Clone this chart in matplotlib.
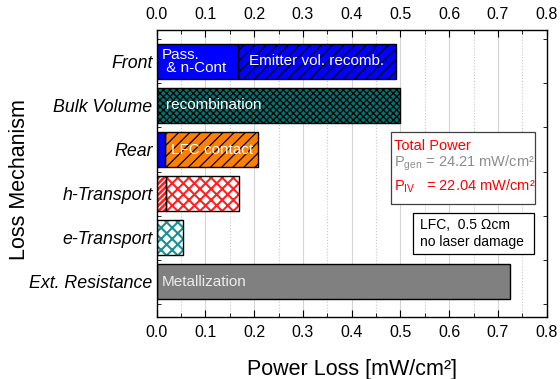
import numpy as np
import matplotlib.pyplot as plt
from matplotlib.patches import Rectangle

plt.rcParams['font.family'] = ['Liberation Sans', 'DejaVu Sans']
plt.rcParams['mathtext.fontset'] = 'custom'
plt.rcParams['mathtext.rm'] = 'Liberation Sans'

# Loss channels, top to bottom
categories = ['Front', 'Bulk Volume', 'Rear', 'h-Transport', 'e-Transport', 'Ext. Resistance']
# first (left) segment of each bar and the remaining segment [mW/cm2]
base_loss = [0.166, 0.0, 0.018, 0.019, 0.0, 0.0]
main_loss = [0.325, 0.500, 0.190, 0.150, 0.053, 0.725]

base_style = [('#0000ff', None, None), None, ('#0000ff', None, None),
              ('#ff2020', '//////', 'white'), None, None]
main_style = [('#0000ff', '///', 'black'), ('#007373', 'xxxxx', 'black'),
              ('#ff8000', '///', 'black'), ('white', 'xxx', '#ff2020'),
              ('white', 'xxx', '#1a9090'), ('#808080', None, None)]

seg_labels = ['Emitter vol. recomb.', 'recombination', 'LFC contact', '', '', 'Metallization']

p_gen = 24.21
p_iv = 22.04

fig = plt.figure(figsize=(5.6, 3.79), dpi=100)
ax = fig.add_axes([0.2798, 0.1644, 0.6964, 0.7564])

ypos = np.arange(len(categories))[::-1]
h = 0.8


def draw_segment(y, left, width, style):
    face, hatch, hcol = style
    with plt.rc_context({'hatch.linewidth': 1.5 if face == 'white' else 0.9}):
        ax.barh(y, width, left=left, height=h, color=face,
                edgecolor=hcol if hatch else face, hatch=hatch, linewidth=0, zorder=2)
    ax.barh(y, width, left=left, height=h, fill=False,
            edgecolor='black', linewidth=1.0, zorder=3)


for i, y in enumerate(ypos):
    if base_loss[i] > 0:
        draw_segment(y, 0, base_loss[i], base_style[i])
    draw_segment(y, base_loss[i], main_loss[i], main_style[i])

# labels inside the bars
ax.text(0.010, ypos[0], 'Pass.\n & n-Cont', color='white', fontsize=11,
        ha='left', va='center', linespacing=0.95, zorder=4)
ax.text(base_loss[0] + main_loss[0] / 2, ypos[0], seg_labels[0], color='white',
        fontsize=11, ha='center', va='center', zorder=4)
ax.text(0.02, ypos[1], seg_labels[1], color='white', fontsize=11,
        ha='left', va='center', zorder=4)
ax.text(base_loss[2] + main_loss[2] / 2, ypos[2], seg_labels[2], color='white',
        fontsize=11, ha='center', va='center', zorder=4)
ax.text(0.010, ypos[5], seg_labels[5], color='#ececec', fontsize=11,
        ha='left', va='center', zorder=4)

ax.set_xlim(0, 0.8)
ax.set_ylim(-0.79, 5.71)
ax.set_xticks(np.arange(0, 0.81, 0.1))
ax.set_xticks(np.arange(0.05, 0.8, 0.1), minor=True)
ax.xaxis.set_major_formatter(plt.FormatStrFormatter('%.1f'))
ax.set_yticks(ypos)
ax.set_yticklabels(categories, fontstyle='italic', fontsize=12.8)
ax.set_yticks(np.arange(-0.5, 5.6, 1.0), minor=True)

ax.tick_params(axis='x', which='both', direction='in', top=True, labeltop=True,
               labelsize=11.5, pad=6)
ax.tick_params(axis='x', which='major', length=5)
ax.tick_params(axis='x', which='minor', length=3)
ax.tick_params(axis='y', which='major', length=0, pad=3)
ax.tick_params(axis='y', which='minor', direction='in', right=True, length=3)

for x in np.arange(0.1, 0.8, 0.1):
    ax.axvline(x, color='#d4d4d4', lw=0.8, zorder=0)
for x in np.arange(0.05, 0.8, 0.1):
    ax.axvline(x, color='#c8c8c8', lw=0.8, ls=':', zorder=0)

for s in ax.spines.values():
    s.set_linewidth(1.0)

ax.set_xlabel('Power Loss [mW/cm²]', fontsize=15.5, labelpad=14)
ax.set_ylabel('Loss Mechanism', fontsize=15.5)
ax.yaxis.set_label_coords(-0.325, 0.477)

# total power box
ax.add_patch(Rectangle((0.600, 0.393), 0.370, 0.252, transform=ax.transAxes,
                       facecolor='white', edgecolor='#404040', lw=0.9, zorder=5))
ax.text(0.608, 0.596, 'Total Power', color='red', fontsize=10.5,
        transform=ax.transAxes, va='center', zorder=6)
ax.text(0.608, 0.535, r'P$_{\mathrm{gen}}$' + f' = {p_gen:.2f} mW/cm²', color='#8c8c8c',
        fontsize=10.5, transform=ax.transAxes, va='center', zorder=6)
ax.text(0.608, 0.455, r'P$_{\mathrm{IV}}$' + f'   = {p_iv:.2f} mW/cm²', color='red',
        fontsize=10.5, transform=ax.transAxes, va='center', zorder=6)

# cell parameters box
ax.add_patch(Rectangle((0.656, 0.219), 0.312, 0.144, transform=ax.transAxes,
                       facecolor='white', edgecolor='black', lw=0.9, zorder=5))
ax.text(0.675, 0.320, 'LFC,  0.5 Ωcm', fontsize=10, transform=ax.transAxes,
        va='center', zorder=6)
ax.text(0.675, 0.259, 'no laser damage', fontsize=10, transform=ax.transAxes,
        va='center', zorder=6)

fig.savefig('out.png', dpi=100)
